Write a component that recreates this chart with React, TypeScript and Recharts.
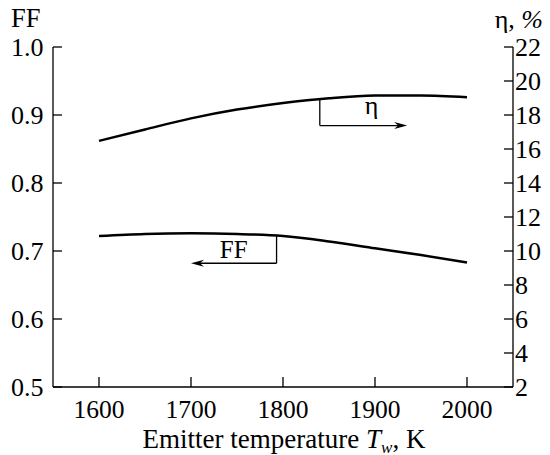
import { LineChart, Line, XAxis, YAxis, ReferenceLine } from 'recharts'

const temps = [1600, 1650, 1700, 1750, 1800, 1850, 1900, 1950, 2000]
const ffValues = [0.722, 0.725, 0.726, 0.725, 0.722, 0.714, 0.704, 0.694, 0.683]
const etaValues = [16.48, 17.15, 17.8, 18.32, 18.7, 18.98, 19.14, 19.15, 19.05]

const xTicks = [1600, 1700, 1800, 1900, 2000]
const ffTicks = [0.5, 0.6, 0.7, 0.8, 0.9, 1.0]
const etaTicks = [2, 4, 6, 8, 10, 12, 14, 16, 18, 20, 22]

const data = temps.map((t, i) => ({ t, ff: ffValues[i], eta: etaValues[i] }))

const FONT = '"Liberation Serif", "DejaVu Serif", serif'
const textStyle = { fontFamily: FONT, fontSize: 26, fill: '#000' }
const axisLine = { stroke: '#000', strokeWidth: 1.3 }

function makeTick(fmt: (v: number) => string, dy: string, size = 26) {
  return (p: any) => (
    <text x={p.x} y={p.y} dy={dy} textAnchor={p.textAnchor} style={{ ...textStyle, fontSize: size }}>
      {fmt(p.payload.value)}
    </text>
  )
}

function Arrow(props: any) {
  const { x1, y1, x2, y2, text, dx = 0, gap = 10, fontSize = 26 } = props
  const dir = x2 >= x1 ? 1 : -1
  const head = `${x2},${y2} ${x2 - dir * 13},${y2 - 3.5} ${x2 - dir * 9},${y2} ${x2 - dir * 13},${y2 + 3.5}`
  return (
    <g>
      <line x1={x1} y1={y1} x2={x2 - dir * 9} y2={y2} stroke="#000" strokeWidth={1.3} />
      <polygon points={head} fill="#000" />
      <text x={(x1 + x2) / 2 + dx} y={y1 - gap} textAnchor="middle" style={{ ...textStyle, fontSize }}>
        {text}
      </text>
    </g>
  )
}

export default function App() {
  return (
    <div style={{ position: 'absolute', left: 0, top: 0, background: '#fff' }}>
      <LineChart width={550} height={455} data={data} margin={{ top: 47, right: 0, bottom: 0, left: 0 }}>
        <XAxis
          dataKey="t"
          type="number"
          domain={[1550, 2050]}
          ticks={xTicks}
          tickSize={-10}
          tickMargin={23}
          tick={makeTick((v) => String(v), '0.71em', 25.5)}
          axisLine={axisLine}
          tickLine={axisLine}
          height={68}
          label={{
            content: (p: any) => {
              const vb = p.viewBox
              return (
                <text x={vb.x + vb.width / 2 + 1} y={447.5} textAnchor="middle" style={{ ...textStyle, fontSize: 27 }}>
                  Emitter temperature <tspan fontStyle="italic">T</tspan>
                  <tspan fontStyle="italic" fontSize={17} dy={5}>w</tspan>
                  <tspan dy={-5}>, K</tspan>
                </text>
              )
            },
          }}
        />
        <YAxis
          yAxisId="ff"
          orientation="left"
          domain={[0.5, 1.0]}
          ticks={ffTicks}
          tickSize={-9}
          tickMargin={18.5}
          tick={makeTick((v) => v.toFixed(1), '0.33em')}
          axisLine={axisLine}
          tickLine={axisLine}
          width={53}
          label={{
            content: (p: any) => (
              <text x={11} y={p.viewBox.y - 20.5} style={{ ...textStyle, fontSize: 26.5 }}>FF</text>
            ),
          }}
        />
        <YAxis
          yAxisId="eta"
          orientation="right"
          domain={[2, 22]}
          ticks={etaTicks}
          tickSize={-9}
          tickMargin={11}
          tick={makeTick((v) => String(v), '0.33em')}
          axisLine={axisLine}
          tickLine={axisLine}
          width={37}
          label={{
            content: (p: any) => (
              <text x={543} y={p.viewBox.y - 19} textAnchor="end" style={textStyle}>
                η, <tspan fontStyle="italic">%</tspan>
              </text>
            ),
          }}
        />
        <Line yAxisId="eta" dataKey="eta" type="monotone" stroke="#000" strokeWidth={2.5} dot={false} isAnimationActive={false} />
        <Line yAxisId="ff" dataKey="ff" type="monotone" stroke="#000" strokeWidth={2.5} dot={false} isAnimationActive={false} />
        <ReferenceLine yAxisId="eta" segment={[{ x: 1840, y: 18.95 }, { x: 1840, y: 17.38 }]} stroke="#000" strokeWidth={1.3} />
        <ReferenceLine
          yAxisId="eta"
          segment={[{ x: 1840, y: 17.38 }, { x: 1935, y: 17.38 }]}
          shape={(p: any) => <Arrow {...p} text="η" dx={8} gap={12} />}
        />
        <ReferenceLine yAxisId="ff" segment={[{ x: 1793, y: 0.7225 }, { x: 1793, y: 0.682 }]} stroke="#000" strokeWidth={1.3} />
        <ReferenceLine
          yAxisId="ff"
          segment={[{ x: 1793, y: 0.682 }, { x: 1700, y: 0.682 }]}
          shape={(p: any) => <Arrow {...p} text="FF" dx={0} gap={5} fontSize={25} />}
        />
      </LineChart>
    </div>
  )
}
